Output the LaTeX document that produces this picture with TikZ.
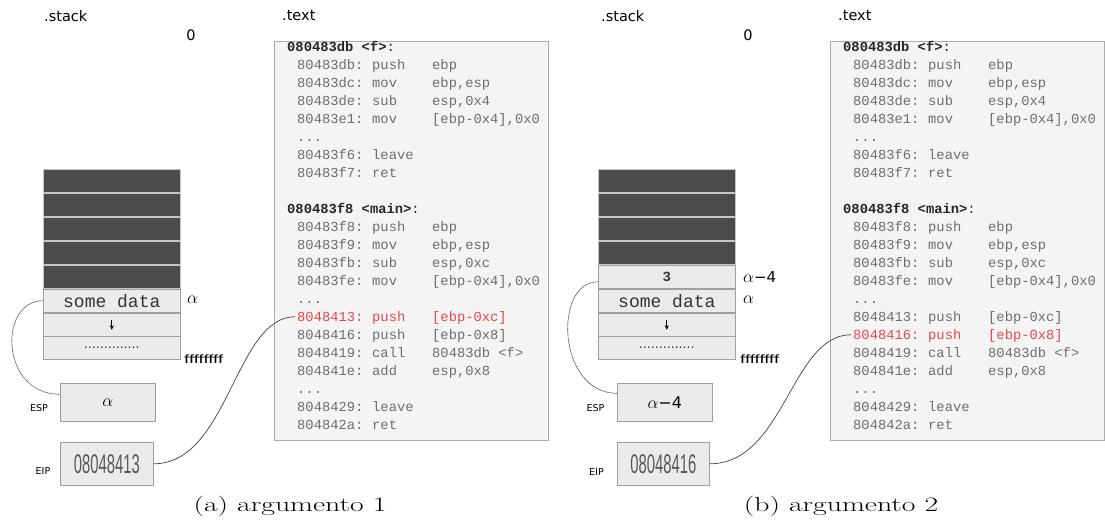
\documentclass[tikz,border=0pt]{standalone}
\usepackage{fontspec}
\usepackage{graphicx}
\usetikzlibrary{arrows.meta}
\newfontfamily\dvsans{DejaVu Sans}
\newfontfamily\lmono{Liberation Mono}
\newfontfamily\lsans{Liberation Sans}
\definecolor{codegray}{HTML}{6E6E6E}
\definecolor{codered}{HTML}{E8474A}
\definecolor{darkcell}{HTML}{4B4B4B}
\definecolor{lightcell}{HTML}{EBEBEB}
\definecolor{boxfill}{HTML}{F4F4F4}
\tikzset{
  darkrow/.style={draw=gray!45, fill=darkcell, line width=0.6pt, minimum width=137pt, minimum height=23pt, inner sep=0pt, anchor=north west},
  lightrow/.style={draw=gray!75, fill=lightcell, line width=0.6pt, minimum width=137pt, minimum height=23pt, inner sep=0pt, anchor=north west},
  reg/.style={draw=gray!75, fill=lightcell, line width=0.6pt, minimum width=95pt, minimum height=38pt, inner sep=0pt, anchor=north west},
  txtbox/.style={draw=gray!65, fill=boxfill, line width=0.8pt, minimum height=399pt, inner sep=0pt, anchor=north west},
  code/.style={font=\lmono\fontsize{13.8}{16}\selectfont, anchor=base west, inner sep=2pt},
  hdr/.style={font=\lmono\fontsize{13.8}{16}\selectfont, text=black!85, anchor=base west, inner sep=2pt},
  lbl/.style={font=\dvsans\fontsize{14.5}{17}\selectfont, inner sep=0pt},
  tiny/.style={font=\dvsans\fontsize{9.5}{11}\selectfont, inner sep=0pt},
  side/.style={font=\fontsize{18}{21}\selectfont, anchor=west, inner sep=0pt},
  fff/.style={font=\lsans\fontsize{12}{14}\selectfont, anchor=base west, inner sep=0pt},
  eipval/.style={font=\lsans\fontsize{27}{30}\selectfont, text=black!65},
  ptr/.style={draw=black!70, line width=0.7pt, dash pattern=on 1.2pt off 0.6pt},
  link/.style={draw=black!75, line width=0.7pt},
  captext/.style={font=\fontsize{20.5}{24}\selectfont, inner sep=0pt},
  mono/.style={font=\lmono\fontsize{18}{20}\selectfont, text=black!80},
  dots/.style={font=\dvsans\fontsize{12.5}{14}\selectfont, text=black!80}
}
\newcommand\listing[3]{%
  \node[hdr] (#3-h1) at (#1-11, 51.3) {\textbf{080483db <f>}:};
  \node[hdr] (#3-h2) at (#1-11, 213.3) {\textbf{080483f8 <main>}:};
  \foreach \i/\a/\m/\o in {1/80483db:/push/ebp, 2/80483dc:/mov/{ebp,esp}, 3/80483de:/sub/{esp,0x4}, 4/80483e1:/mov/{[ebp-0x4],0x0},
      6/80483f6:/leave/{}, 7/80483f7:/ret/{},
      10/80483f8:/push/ebp, 11/80483f9:/mov/{ebp,esp}, 12/80483fb:/sub/{esp,0xc}, 13/80483fe:/mov/{[ebp-0x4],0x0},
      15/8048413:/push/{[ebp-0xc]}, 16/8048416:/push/{[ebp-0x8]}, 17/8048419:/call/{80483db <f>}, 18/804841e:/add/{esp,0x8},
      20/8048429:/leave/{}, 21/804842a:/ret/{}} {
    \ifnum\i=#2 \def\col{codered}\else\def\col{codegray}\fi
    \node[code, text=\col] (#3-a\i) at (#1-1, 47+18*\i+4.3) {\a};
    \node[code, text=\col] (#3-m\i) at (#1+74, 47+18*\i+4.3) {\m};
    \node[code, text=\col] (#3-o\i) at (#1+134, 47+18*\i+4.3) {\o};
  }
  \foreach \i in {5,14,19} {
    \node[code, text=codegray] (#3-a\i) at (#1-1, 47+18*\i+4.3) {...};
  }
}
\begin{document}
\begin{tikzpicture}[x=1pt, y=-1pt]
\useasboundingbox (0,0) rectangle (1105,524);

% ---------------- panel (a) ----------------
\node[lbl, anchor=west] (a-stack) at (44,16) {.stack};
\node[lbl] (a-zero) at (191,35) {0};
\node[lbl, anchor=west] (a-text) at (282,16) {.text};

\foreach \k/\t in {1/169,2/193,3/217,4/241,5/265}
  \node[darkrow] (a-d\k) at (43,\t) {};
\node[lightrow, mono] (a-sd) at (43,289) {some data};
\node[lightrow] (a-ar) at (43,313) {};
\node[lightrow, dots] (a-dt) at (43,336) {..............};
\draw[-{Stealth[length=4.5pt,width=4pt]}, line width=0.9pt] ([yshift=5pt]a-ar.center) -- ([yshift=-5pt]a-ar.center);

\node[side] (a-alpha) at (187,300) {$\alpha$};
\node[fff] (a-fff) at (184,363) {\scalebox{1.55}[1]{ffffffff}};

\node[reg, font=\fontsize{17}{20}\selectfont] (a-esp) at (60,383) {$\alpha$};
\node[reg, minimum height=43pt, minimum width=93pt, eipval] (a-eip) at (60,442) {\scalebox{0.55}[1]{08048413}};
\node[tiny] (a-esplbl) at (39,408) {ESP};
\node[tiny] (a-eiplbl) at (43,471) {EIP};

\node[txtbox, minimum width=274pt] (a-txt) at (274,41) {};
\listing{296}{15}{a}

\draw[ptr] (a-sd.west) .. controls +(-45,0) and +(-60,0) .. ([yshift=8pt]a-esp.west);
\draw[link] (a-eip.east) .. controls +(75,0) and +(-60,0) .. (a-a15.west);

\node[captext] (a-cap) at (290,506) {\scalebox{1.45}[1]{(a) argumento 1}};

% ---------------- panel (b) ----------------
\node[lbl, anchor=west] (b-stack) at (601,16) {.stack};
\node[lbl] (b-zero) at (748,35) {0};
\node[lbl, anchor=west] (b-text) at (838,16) {.text};

\foreach \k/\t in {1/169,2/193,3/217,4/241}
  \node[darkrow] (b-d\k) at (598,\t) {};
\node[lightrow, font=\lmono\bfseries\fontsize{14}{16}\selectfont, text=black!80] (b-three) at (598,265) {3};
\node[lightrow, mono] (b-sd) at (598,289) {some data};
\node[lightrow] (b-ar) at (598,313) {};
\node[lightrow, dots] (b-dt) at (598,336) {..............};
\draw[-{Stealth[length=4.5pt,width=4pt]}, line width=0.9pt] ([yshift=5pt]b-ar.center) -- ([yshift=-5pt]b-ar.center);

\node[side] (b-am4) at (743,277) {$\alpha${\dvsans\fontsize{15}{18}\selectfont −4}};
\node[side] (b-alpha) at (743,300) {$\alpha$};
\node[fff] (b-fff) at (740,363) {\scalebox{1.55}[1]{ffffffff}};

\node[reg, font=\fontsize{18}{20}\selectfont] (b-esp) at (617,383) {$\alpha${\dvsans\fontsize{16}{18}\selectfont −4}};
\node[reg, minimum height=43pt, minimum width=92pt, eipval] (b-eip) at (617,442) {\scalebox{0.55}[1]{08048416}};
\node[tiny] (b-esplbl) at (595.5,408) {ESP};
\node[tiny] (b-eiplbl) at (596.5,472) {EIP};

\node[txtbox, minimum width=274pt] (b-txt) at (830,41) {};
\listing{852}{16}{b}

\draw[ptr] ([yshift=-5pt]b-three.west) .. controls +(-45,0) and +(-60,0) .. ([yshift=9pt]b-esp.west);
\draw[link] (b-eip.east) .. controls +(75,0) and +(-60,0) .. (b-a16.west);

\node[captext] (b-cap) at (841,506) {\scalebox{1.45}[1]{(b) argumento 2}};
\end{tikzpicture}
\end{document}
